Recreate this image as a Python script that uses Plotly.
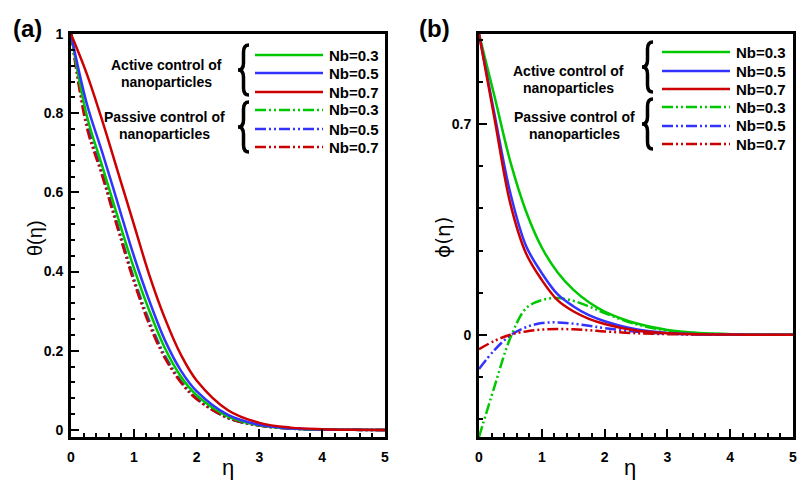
import plotly.graph_objects as go

# ---------------- data ----------------
eta = [0, 0.25, 0.5, 0.75, 1.0, 1.25, 1.5, 1.75, 2.0, 2.5, 3.0, 3.5, 4.0, 4.5, 5.0]
nb_labels = ["Nb=0.3", "Nb=0.5", "Nb=0.7"]

# temperature profiles theta(eta)
theta_active_03 = [1.0, 0.795, 0.665, 0.535, 0.41, 0.30, 0.205, 0.135, 0.088, 0.034, 0.012, 0.004, 0.001, 0.0003, 0.0]
theta_active_05 = [1.0, 0.825, 0.70, 0.57, 0.44, 0.325, 0.225, 0.15, 0.098, 0.038, 0.013, 0.004, 0.001, 0.0003, 0.0]
theta_active_07 = [1.0, 0.90, 0.78, 0.65, 0.52, 0.39, 0.28, 0.19, 0.125, 0.05, 0.018, 0.006, 0.002, 0.0005, 0.0]
theta_passive_03 = [1.0, 0.78, 0.65, 0.515, 0.385, 0.275, 0.187, 0.125, 0.081, 0.031, 0.011, 0.0035, 0.001, 0.0003, 0.0]
theta_passive_05 = [1.0, 0.775, 0.645, 0.51, 0.38, 0.27, 0.184, 0.122, 0.079, 0.03, 0.011, 0.0035, 0.001, 0.0003, 0.0]
theta_passive_07 = [1.0, 0.765, 0.64, 0.505, 0.375, 0.265, 0.18, 0.12, 0.078, 0.03, 0.011, 0.0035, 0.001, 0.0003, 0.0]

# concentration profiles phi(eta)
phi_active_03 = [1.0, 0.79, 0.575, 0.41, 0.29, 0.208, 0.15, 0.108, 0.077, 0.038, 0.016, 0.006, 0.002, 0.0005, 0.0]
phi_active_05 = [1.0, 0.73, 0.47, 0.295, 0.205, 0.135, 0.095, 0.065, 0.045, 0.018, 0.006, 0.002, 0.0006, 0.0002, 0.0]
phi_active_07 = [1.0, 0.715, 0.435, 0.27, 0.182, 0.115, 0.078, 0.053, 0.036, 0.014, 0.005, 0.0015, 0.0005, 0.0001, 0.0]
phi_passive_03 = [-0.34, -0.17, -0.01, 0.088, 0.115, 0.122, 0.113, 0.094, 0.072, 0.035, 0.014, 0.005, 0.0015, 0.0004, 0.0]
phi_passive_05 = [-0.114, -0.05, -0.002, 0.025, 0.039, 0.041, 0.037, 0.03, 0.022, 0.01, 0.004, 0.0013, 0.0004, 0.0001, 0.0]
phi_passive_07 = [-0.048, -0.02, 0.0, 0.011, 0.017, 0.019, 0.018, 0.015, 0.011, 0.005, 0.002, 0.0007, 0.0002, 0.0001, 0.0]

# ---------------- style ----------------
W, H = 803, 480
colors = ["#00c800", "#3333ff", "#cc0000"]
DASH = "11px,3px,2px,3px,2px,3px"
FONT = "Liberation Sans, Arial, Helvetica, sans-serif"
LW = 2.5


def px(x):
    return x / W


def py(y):
    return 1 - y / H


fig = go.Figure()

theta_sets = [(theta_active_03, theta_active_05, theta_active_07),
              (theta_passive_03, theta_passive_05, theta_passive_07)]
phi_sets = [(phi_active_03, phi_active_05, phi_active_07),
            (phi_passive_03, phi_passive_05, phi_passive_07)]

# passive curves first so the solid ones sit on top
for group, dash in ((1, DASH), (0, "solid")):
    for i in range(3):
        fig.add_trace(go.Scatter(x=eta, y=theta_sets[group][i], mode="lines",
                                 line=dict(color=colors[i], width=LW, dash=dash, shape="spline", smoothing=1.0),
                                 xaxis="x", yaxis="y", showlegend=False, hoverinfo="skip"))
        fig.add_trace(go.Scatter(x=eta, y=phi_sets[group][i], mode="lines",
                                 line=dict(color=colors[i], width=LW, dash=dash, shape="spline", smoothing=1.0),
                                 xaxis="x2", yaxis="y2", showlegend=False, hoverinfo="skip"))

tickfont = dict(family=FONT, size=14, color="black", weight="bold")
common_axis = dict(showline=True, linewidth=3, linecolor="black", mirror=True,
                   ticks="inside", ticklen=8, tickwidth=2, tickcolor="black",
                   showgrid=False, zeroline=False, tickfont=tickfont, automargin=False)

x_minor = dict(ticks="inside", ticklen=4, tickwidth=1.5, tickcolor="black", dtick=0.2, tick0=0, showgrid=False)

fig.update_layout(
    width=W, height=H, margin=dict(l=0, r=0, t=0, b=0),
    paper_bgcolor="white", plot_bgcolor="white",
    xaxis=dict(domain=[px(71), px(385)], range=[0, 5], dtick=1, tick0=0, anchor="y",
               minor=x_minor, ticklabelstandoff=5, **common_axis),
    yaxis=dict(domain=[py(437), py(34)], range=[-0.0177, 1.0], dtick=0.2, tick0=0, anchor="x",
               minor=dict(ticks="inside", ticklen=4, tickwidth=1.5, tickcolor="black", dtick=0.04, tick0=0,
                          showgrid=False),
               ticklabelstandoff=2, **common_axis),
    xaxis2=dict(domain=[px(479), px(793)], range=[0, 5], dtick=1, tick0=0, anchor="y2",
                minor=x_minor, ticklabelstandoff=5, **common_axis),
    yaxis2=dict(domain=[py(437), py(34)], range=[-0.34, 1.0], tickmode="array", tickvals=[0, 0.7],
                ticktext=["0", "0.7"], anchor="x2",
                minor=dict(ticks="inside", ticklen=4, tickwidth=1.5, tickcolor="black", dtick=0.14, tick0=0,
                           showgrid=False),
                ticklabelstandoff=2, **common_axis),
)

annotations = []
shapes = []


def text(x, y, s, size=14, bold=True, xanchor="center", angle=0, family=FONT):
    annotations.append(dict(x=px(x), y=py(y), xref="paper", yref="paper", text=s, showarrow=False,
                            xanchor=xanchor, yanchor="middle", textangle=angle,
                            font=dict(family=family, size=size, color="black",
                                      weight="bold" if bold else "normal")))


def brace(x, top, bot, w=11, r=7):
    xm = x + w * 0.5
    mid = (top + bot) / 2
    pts = [
        f"M {px(x + w)},{py(top)}",
        f"Q {px(xm)},{py(top)} {px(xm)},{py(top + r)}",
        f"L {px(xm)},{py(mid - r)}",
        f"Q {px(xm)},{py(mid)} {px(x)},{py(mid)}",
        f"Q {px(xm)},{py(mid)} {px(xm)},{py(mid + r)}",
        f"L {px(xm)},{py(bot - r)}",
        f"Q {px(xm)},{py(bot)} {px(x + w)},{py(bot)}",
    ]
    shapes.append(dict(type="path", xref="paper", yref="paper", path=" ".join(pts),
                       line=dict(color="black", width=3.5)))


def legend_block(x_line0, x_line1, rows, brace_x, brace_spans, group_text):
    k = 0
    for g, dash in enumerate(("solid", DASH)):
        for i in range(3):
            y = rows[k]
            shapes.append(dict(type="line", xref="paper", yref="paper",
                               x0=px(x_line0), x1=px(x_line1), y0=py(y), y1=py(y),
                               line=dict(color=colors[i], width=LW, dash=dash)))
            text(x_line1 + 4, y, nb_labels[i], size=15, xanchor="left")
            k += 1
        brace(brace_x, brace_spans[g][0], brace_spans[g][1])
    for (cx, cy, s) in group_text:
        text(cx, cy, s, size=14)


# panel (a) key
legend_block(255, 323, [55, 73, 92, 110, 129, 147], 238, [(45, 95), (102, 152)],
             [(166, 65, "Active control of"), (166, 82, "nanoparticles"),
              (164, 117, "Passive control of"), (164, 134, "nanoparticles")])
# panel (b) key
legend_block(662, 730, [52, 71, 89, 107, 126, 144], 642, [(42, 92), (99, 149)],
             [(568, 71, "Active control of"), (568, 88, "nanoparticles"),
              (574, 117, "Passive control of"), (574, 134, "nanoparticles")])

# panel tags and axis titles
text(27, 28, "(a)", size=24)
text(435, 28, "(b)", size=24)
text(228, 467, "η", size=22, bold=False)
text(630, 467, "η", size=22, bold=False)
text(35, 238, "θ(η)", size=20, bold=False, angle=-90)
text(443, 238, "ϕ(η)", size=20, bold=False, angle=-90, family="DejaVu Sans, sans-serif")

fig.update_layout(annotations=annotations, shapes=shapes)

fig.write_html("out.html")
